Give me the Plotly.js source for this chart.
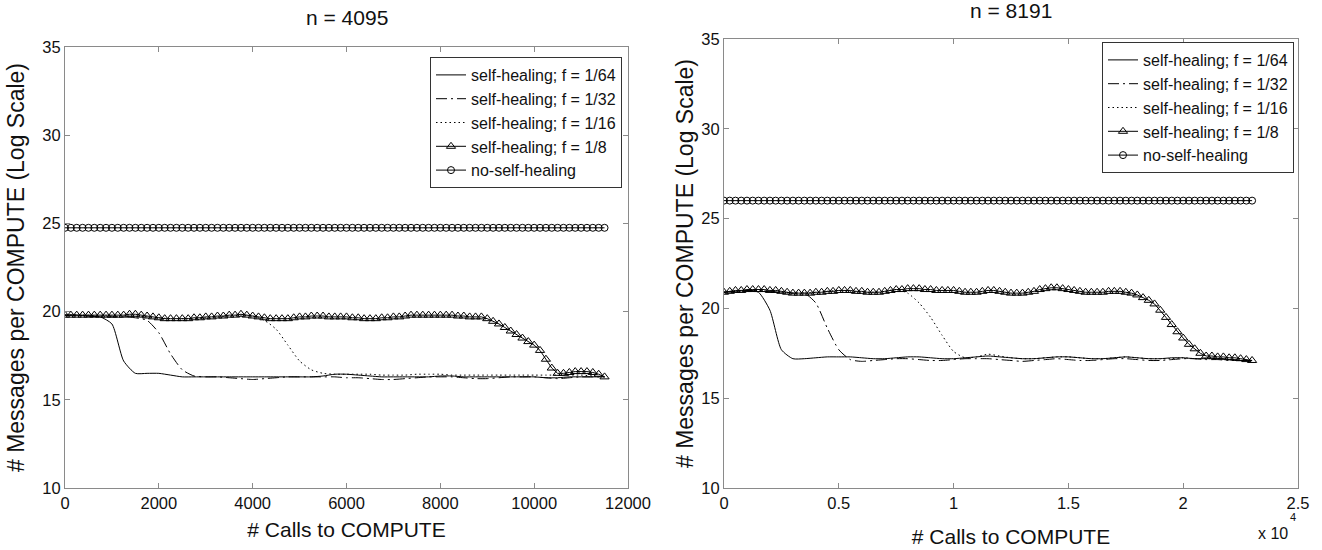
<!DOCTYPE html>
<html>
<head>
<meta charset="utf-8">
<script src="https://cdn.plot.ly/plotly-3.0.1.min.js"></script>
<style>html,body{margin:0;padding:0;background:#fff;}#chart{width:1322px;height:550px;}</style>
</head>
<body>
<div id="chart"></div>
<script>
// ---------- Labels ----------
const seriesNames = ["self-healing; f = 1/64", "self-healing; f = 1/32", "self-healing; f = 1/16", "self-healing; f = 1/8", "no-self-healing"];
const titleLeft = "n = 4095";
const titleRight = "n = 8191";

// ---------- Data: n = 4095 (left) ----------
const xLeftMark = [0,125,250,375,500,625,750,875,1000,1125,1250,1375,1500,1625,1750,1875,2000,2125,2250,2375,2500,2625,2750,2875,3000,3125,3250,3375,3500,3625,3750,3875,4000,4125,4250,4375,4500,4625,4750,4875,5000,5125,5250,5375,5500,5625,5750,5875,6000,6125,6250,6375,6500,6625,6750,6875,7000,7125,7250,7375,7500,7625,7750,7875,8000,8125,8250,8375,8500,8625,8750,8875,9000,9125,9250,9375,9500,9625,9750,9875,10000,10125,10250,10375,10500,10625,10750,10875,11000,11125,11250,11375,11500];
const xLeftLine = [0,250,500,750,1000,1250,1500,1750,2000,2250,2500,2750,3000,3250,3500,3750,4000,4250,4500,4750,5000,5250,5500,5750,6000,6250,6500,6750,7000,7250,7500,7750,8000,8250,8500,8750,9000,9250,9500,9750,10000,10250,10500,10750,11000,11250,11500];

const left_f64 = [19.8,19.8,19.75,19.7,19.3,17.2,16.5,16.5,16.5,16.4,16.3,16.3,16.3,16.3,16.3,16.3,16.3,16.3,16.3,16.3,16.3,16.3,16.35,16.45,16.45,16.4,16.35,16.3,16.3,16.3,16.3,16.3,16.35,16.35,16.3,16.3,16.3,16.3,16.3,16.3,16.3,16.25,16.25,16.3,16.3,16.3,16.3];
const left_f32 = [19.8,19.8,19.75,19.7,19.7,19.7,19.65,19.5,18.8,17.6,16.7,16.35,16.3,16.3,16.25,16.2,16.15,16.2,16.25,16.3,16.3,16.3,16.3,16.3,16.25,16.25,16.2,16.15,16.15,16.2,16.25,16.3,16.3,16.3,16.25,16.2,16.2,16.25,16.3,16.3,16.3,16.25,16.2,16.25,16.3,16.3,16.3];
const left_f16 = [19.8,19.8,19.8,19.75,19.75,19.75,19.75,19.7,19.65,19.6,19.6,19.6,19.65,19.7,19.75,19.8,19.75,19.5,19.0,18.1,17.2,16.7,16.5,16.45,16.45,16.45,16.45,16.4,16.4,16.4,16.45,16.45,16.45,16.4,16.4,16.4,16.4,16.4,16.4,16.4,16.4,16.4,16.4,16.4,16.4,16.35,16.3];
const left_f8 = [19.8,19.8,19.8,19.8,19.8,19.8,19.8,19.8,19.8,
 19.8,19.8,19.85,19.85,19.8,19.75,19.7,19.65,
 19.6,19.6,19.6,19.6,19.6,19.65,19.65,19.7,
 19.7,19.75,19.75,19.8,19.8,19.85,19.8,19.75,
 19.7,19.65,19.6,19.6,19.6,19.6,19.65,19.7,
 19.7,19.75,19.75,19.75,19.7,19.7,19.7,19.7,
 19.65,19.65,19.6,19.6,19.6,19.65,19.65,19.7,
 19.7,19.75,19.8,19.8,19.8,19.8,19.8,19.8,
 19.8,19.8,19.75,19.75,19.7,19.7,19.7,19.6,
 19.45,19.3,19.1,18.9,18.7,18.5,18.3,18.1,
 17.8,17.3,16.8,16.5,16.5,16.55,16.6,16.6,
 16.6,16.55,16.45,16.3];
const left_none = [24.75,24.75,24.75,24.75,24.75,24.75,24.75,24.75,24.75,24.75,24.75,24.75,24.75,24.75,24.75,24.75,24.75,24.75,24.75,24.75,24.75,24.75,24.75,24.75,24.75,24.75,24.75,24.75,24.75,24.75,24.75,24.75,24.75,24.75,24.75,24.75,24.75,24.75,24.75,24.75,24.75,24.75,24.75,24.75,24.75,24.75,24.75,24.75,24.75,24.75,24.75,24.75,24.75,24.75,24.75,24.75,24.75,24.75,24.75,24.75,24.75,24.75,24.75,24.75,24.75,24.75,24.75,24.75,24.75,24.75,24.75,24.75,24.75,24.75,24.75,24.75,24.75,24.75,24.75,24.75,24.75,24.75,24.75,24.75,24.75,24.75,24.75,24.75,24.75,24.75,24.75,24.75,24.75];
const leftTickVals = [0,2000,4000,6000,8000,10000,12000];
const leftTickText = ["0","2000","4000","6000","8000","10000","12000"];

// ---------- Data: n = 8191 (right) ----------
const xRightMark = [0,250,500,750,1000,1250,1500,1750,2000,2250,2500,2750,3000,3250,3500,3750,4000,4250,4500,4750,5000,5250,5500,5750,6000,6250,6500,6750,7000,7250,7500,7750,8000,8250,8500,8750,9000,9250,9500,9750,10000,10250,10500,10750,11000,11250,11500,11750,12000,12250,12500,12750,13000,13250,13500,13750,14000,14250,14500,14750,15000,15250,15500,15750,16000,16250,16500,16750,17000,17250,17500,17750,18000,18250,18500,18750,19000,19250,19500,19750,20000,20250,20500,20750,21000,21250,21500,21750,22000,22250,22500,22750,23000];
const xRightLine = [0,500,1000,1500,2000,2500,3000,3500,4000,4500,5000,5500,6000,6500,7000,7500,8000,8500,9000,9500,10000,10500,11000,11500,12000,12500,13000,13500,14000,14500,15000,15500,16000,16500,17000,17500,18000,18500,19000,19500,20000,20500,21000,21500,22000,22500,23000];

const right_f64 = [20.9,20.95,21.0,20.9,19.9,17.7,17.2,17.2,17.25,17.3,17.3,17.3,17.25,17.2,17.2,17.25,17.3,17.3,17.25,17.2,17.2,17.25,17.3,17.35,17.3,17.25,17.2,17.2,17.25,17.3,17.3,17.25,17.2,17.2,17.25,17.3,17.25,17.2,17.2,17.25,17.25,17.2,17.2,17.2,17.15,17.1,17.1];
const right_f32 = [20.9,20.95,21.0,21.0,20.95,20.9,20.85,20.85,20.3,18.9,17.7,17.15,17.05,17.1,17.15,17.2,17.2,17.15,17.1,17.1,17.15,17.2,17.2,17.2,17.15,17.1,17.05,17.1,17.15,17.2,17.15,17.1,17.1,17.15,17.2,17.2,17.15,17.1,17.1,17.15,17.2,17.2,17.15,17.15,17.1,17.1,17.05];
const right_f16 = [20.9,20.95,21.0,21.0,20.95,20.9,20.85,20.85,20.9,20.95,21.0,20.95,20.9,20.9,20.95,21.05,20.85,20.3,19.5,18.5,17.6,17.25,17.3,17.45,17.35,17.25,17.2,17.2,17.25,17.3,17.3,17.25,17.2,17.2,17.25,17.3,17.25,17.2,17.2,17.2,17.25,17.2,17.2,17.2,17.15,17.1,17.1];
const right_f8 = [20.9,20.95,21.0,21.0,21.05,21.05,21.05,21.05,21.0,
 21.0,20.95,20.9,20.85,20.85,20.85,20.85,20.9,
 20.9,20.95,20.95,21.0,21.0,21.0,20.95,20.95,
 20.9,20.9,20.9,20.95,21.0,21.05,21.05,21.1,
 21.1,21.1,21.05,21.05,21.0,21.0,21.0,21.0,
 20.95,20.9,20.9,20.9,20.95,21.0,21.0,20.95,
 20.9,20.85,20.85,20.85,20.9,20.95,21.05,21.1,
 21.15,21.15,21.1,21.05,21.0,20.95,20.9,20.9,
 20.9,20.9,20.95,20.95,20.95,20.9,20.85,20.75,
 20.6,20.45,20.25,19.9,19.5,19.1,18.7,18.35,
 18.0,17.75,17.5,17.35,17.35,17.3,17.3,17.25,
 17.25,17.2,17.15,17.1];
const right_none = [26.0,26.0,26.0,26.0,26.0,26.0,26.0,26.0,26.0,26.0,26.0,26.0,26.0,26.0,26.0,26.0,26.0,26.0,26.0,26.0,26.0,26.0,26.0,26.0,26.0,26.0,26.0,26.0,26.0,26.0,26.0,26.0,26.0,26.0,26.0,26.0,26.0,26.0,26.0,26.0,26.0,26.0,26.0,26.0,26.0,26.0,26.0,26.0,26.0,26.0,26.0,26.0,26.0,26.0,26.0,26.0,26.0,26.0,26.0,26.0,26.0,26.0,26.0,26.0,26.0,26.0,26.0,26.0,26.0,26.0,26.0,26.0,26.0,26.0,26.0,26.0,26.0,26.0,26.0,26.0,26.0,26.0,26.0,26.0,26.0,26.0,26.0,26.0,26.0,26.0,26.0,26.0,26.0];
const rightTickVals = [0,5000,10000,15000,20000,25000];
const rightTickText = ["0","0.5","1","1.5","2","2.5"];

// ---------- Build traces ----------
const FONT = '"Liberation Sans", Arial, Helvetica, sans-serif';
const black = '#000';

function makeTraces(xLine, xMark, f64, f32, f16, f8, none, xa, ya, legendId) {
  const base = {type: 'scatter', xaxis: xa, yaxis: ya, legend: legendId, hoverinfo: 'skip'};
  return [
    Object.assign({}, base, {x: xLine, y: f64, name: seriesNames[0], mode: 'lines',
      line: {color: black, width: 1, dash: 'solid', shape: 'spline', smoothing: 0.6}}),
    Object.assign({}, base, {x: xLine, y: f32, name: seriesNames[1], mode: 'lines',
      line: {color: black, width: 1, dash: '11px,4px,2px,4px', shape: 'spline', smoothing: 0.6}}),
    Object.assign({}, base, {x: xLine, y: f16, name: seriesNames[2], mode: 'lines',
      line: {color: black, width: 1, dash: '1.5px,3px', shape: 'spline', smoothing: 0.6}}),
    Object.assign({}, base, {x: xMark, y: f8, name: seriesNames[3], mode: 'lines+markers',
      line: {color: black, width: 1},
      marker: {symbol: 'triangle-up-open', size: 8, color: black, line: {color: black, width: 1}}}),
    Object.assign({}, base, {x: xMark, y: none, name: seriesNames[4], mode: 'lines+markers',
      line: {color: black, width: 1},
      marker: {symbol: 'circle-open', size: 7, color: black, line: {color: black, width: 1}}})
  ];
}

const traces = [].concat(
  makeTraces(xLeftLine, xLeftMark, left_f64, left_f32, left_f16, left_f8, left_none, 'x', 'y', 'legend'),
  makeTraces(xRightLine, xRightMark, right_f64, right_f32, right_f16, right_f8, right_none, 'x2', 'y2', 'legend2')
);

const axisLine = '#8a8a8a';
const TICKSIZE = 16.5;
function axisStyle(extra) {
  return Object.assign({
    showline: true, linecolor: axisLine, linewidth: 1, mirror: 'ticks',
    ticks: 'inside', ticklen: 5, tickcolor: axisLine, tickwidth: 1,
    showgrid: false, zeroline: false,
    tickfont: {family: FONT, size: TICKSIZE, color: '#111'}
  }, extra);
}

const W = 1322, H = 550;
const layout = {
  width: W, height: H,
  margin: {l: 0, r: 0, t: 0, b: 0},
  paper_bgcolor: '#fff', plot_bgcolor: '#fff',
  font: {family: FONT, color: '#111'},
  showlegend: true,
  xaxis: axisStyle({domain: [65/W, 628/W], range: [0, 12000], tickvals: leftTickVals, ticktext: leftTickText,
    anchor: 'y',
    title: {text: '# Calls to COMPUTE', font: {family: FONT, size: 21, color: '#111'}, standoff: 11}}),
  yaxis: axisStyle({domain: [1-488/H, 1-47/H], range: [10, 35], dtick: 5, anchor: 'x',
    title: {text: '# Messages per COMPUTE (Log Scale)', font: {family: FONT, size: 23, color: '#111'}, standoff: 11}}),
  xaxis2: axisStyle({domain: [724/W, 1298/W], range: [0, 25000], tickvals: rightTickVals, ticktext: rightTickText,
    anchor: 'y2',
    title: {text: '# Calls to COMPUTE', font: {family: FONT, size: 21, color: '#111'}, standoff: 18}}),
  yaxis2: axisStyle({domain: [1-488/H, 1-39/H], range: [10, 35], dtick: 5, anchor: 'x2',
    title: {text: '# Messages per COMPUTE (Log Scale)', font: {family: FONT, size: 23, color: '#111'}, standoff: 1}}),
  legend: {x: 622/W, y: 1-57/H, xanchor: 'right', yanchor: 'top', bgcolor: '#fff',
    bordercolor: '#333', borderwidth: 1, font: {family: FONT, size: 16, color: '#111'}, tracegroupgap: 0},
  legend2: {x: 1294/W, y: 1-42/H, xanchor: 'right', yanchor: 'top', bgcolor: '#fff',
    bordercolor: '#333', borderwidth: 1, font: {family: FONT, size: 16, color: '#111'}, tracegroupgap: 0},
  annotations: [
    {text: titleLeft, xref: 'paper', yref: 'paper', x: 347/W, y: 1-18/H, xanchor: 'center', yanchor: 'middle',
      showarrow: false, font: {family: FONT, size: 21, color: '#111'}},
    {text: titleRight, xref: 'paper', yref: 'paper', x: 1011/W, y: 1-10/H, xanchor: 'center', yanchor: 'middle',
      showarrow: false, font: {family: FONT, size: 21, color: '#111'}},
    {text: 'x 10', xref: 'paper', yref: 'paper', x: 1290/W, y: 1-533/H, xanchor: 'right', yanchor: 'middle',
      showarrow: false, font: {family: FONT, size: 16, color: '#111'}},
    {text: '4', xref: 'paper', yref: 'paper', x: 1293/W, y: 1-517/H, xanchor: 'center', yanchor: 'middle',
      showarrow: false, font: {family: FONT, size: 11, color: '#111'}}
  ]
};

Plotly.newPlot('chart', traces, layout, {staticPlot: true, displayModeBar: false});
</script>
</body>
</html>
